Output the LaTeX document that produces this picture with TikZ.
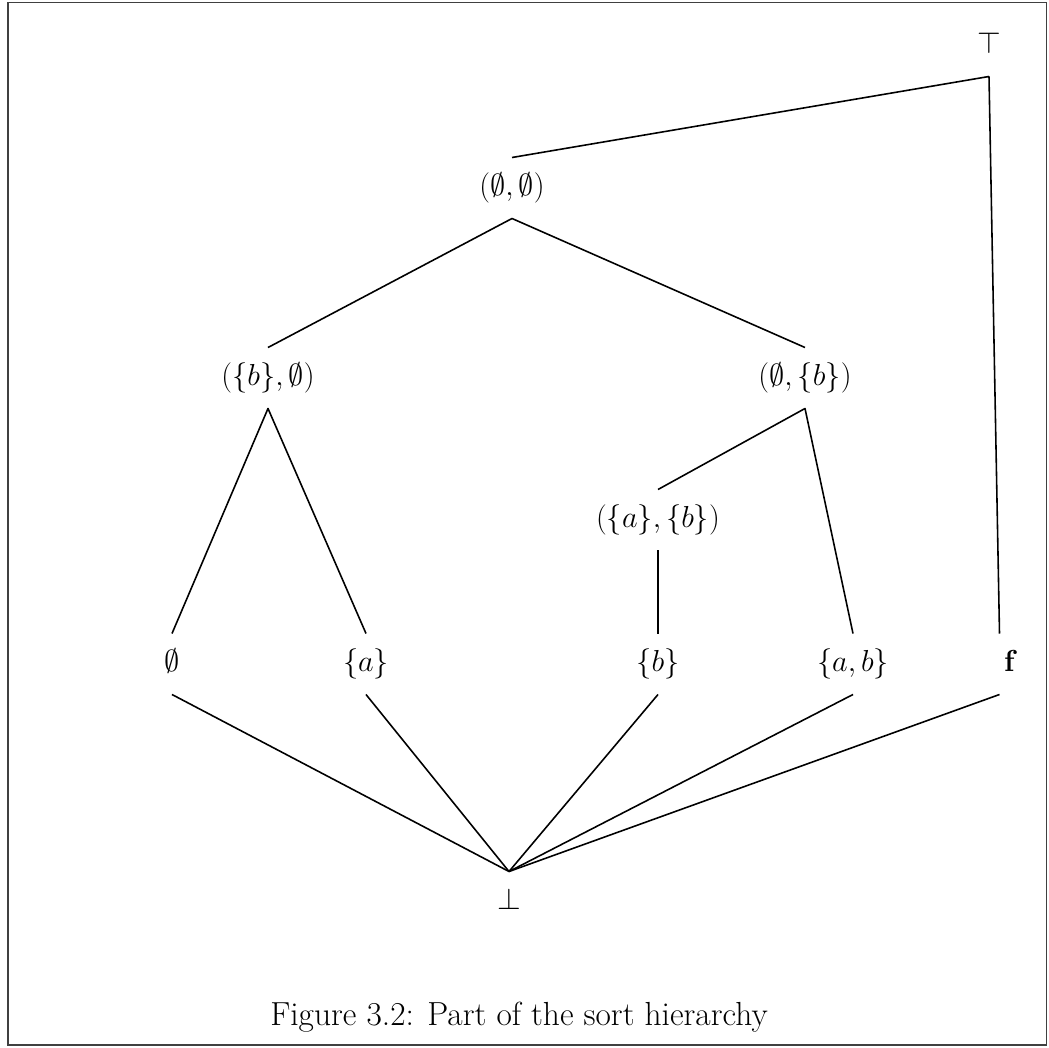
\documentclass[tikz,border=0pt]{standalone}
\usepackage{amsmath, amssymb}

\begin{document}
\begin{tikzpicture}[
  elt/.style={font=\fontsize{18.5}{22}\selectfont, inner xsep=2pt, inner ysep=8.5pt,
              text height=13pt, text depth=4.3pt},
  link/.style={line width=0.9pt, line join=round}]
 \useasboundingbox (0,0) rectangle (20.98,-20.96);
 \draw[line width=0.8pt, black!75] (0.16,-0.05) rectangle (20.93,-20.90);
 % sorts
 \node[elt] (top) at (19.78,-0.92) {$\top$};
 \node[elt] (pp) at (10.24,-3.76) {$(\emptyset,\emptyset)$};
 \node[elt] (bp) at (5.36,-7.56) {$(\{b\},\emptyset)$};
 \node[elt] (pb) at (16.10,-7.56) {$(\emptyset,\{b\})$};
 \node[elt] (ab) at (13.16,-10.40) {$(\{a\},\{b\})$};
 \node[elt] (e) at (3.44,-13.28) {$\emptyset$};
 \node[elt] (a) at (7.32,-13.28) {$\{a\}$};
 \node[elt] (b) at (13.16,-13.28) {$\{b\}$};
 \node[elt] (abs) at (17.06,-13.28) {$\{a,b\}$};
 \node[elt] (f) at (20.22,-13.28) {$\mathbf{f}$};
 \node[elt] (bot) at (10.18,-18.04) {$\bot$};
 % order
 \draw[link] (top.south) -- (pp.north);
 \draw[link] (top.south) -- ([xshift=-0.23cm]f.north);
 \draw[link] (bp.north) -- (pp.south) -- (pb.north);
 \draw[link] (e.north) -- (bp.south) -- (a.north);
 \draw[link] (ab.north) -- (pb.south) -- (abs.north);
 \draw[link] (ab.south) -- (b.north);
 \foreach \n in {e,a,b,abs}
  \draw[link] (\n.south) -- (bot.north);
 \draw[link] ([xshift=-0.23cm]f.south) -- (bot.north);
 \node[font=\fontsize{19}{23}\selectfont, anchor=base] (cap) at (10.38,-20.50)
  {Figure 3.2: Part of the sort hierarchy};
\end{tikzpicture}
\end{document}
